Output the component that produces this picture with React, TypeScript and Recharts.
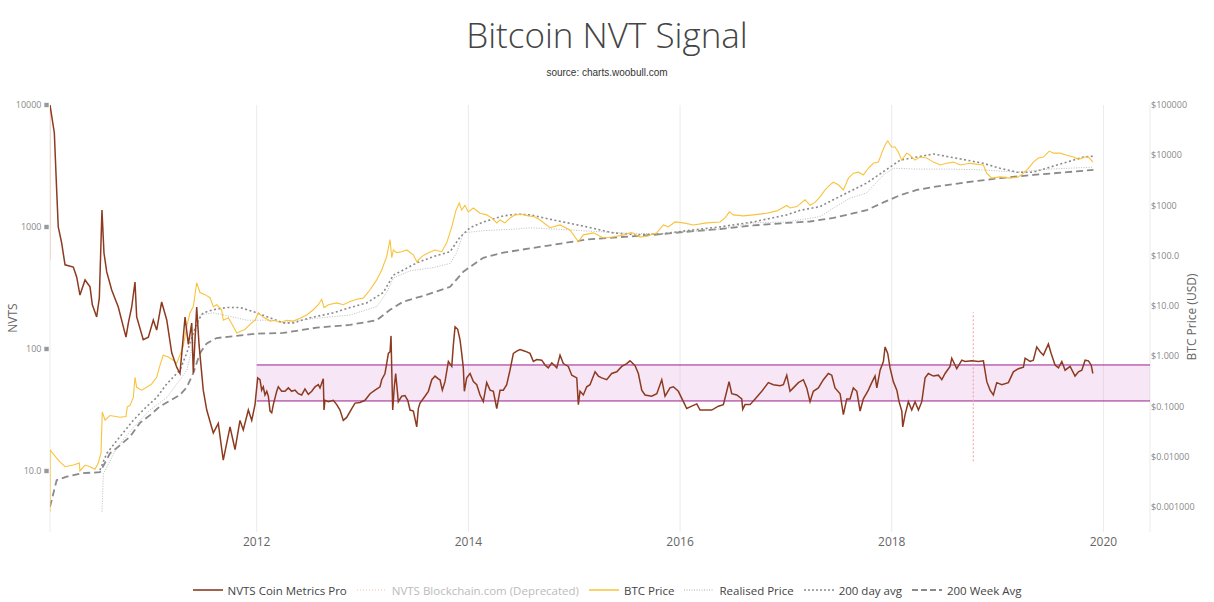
import {
  ComposedChart,
  Line,
  XAxis,
  YAxis,
  CartesianGrid,
  ReferenceArea,
  ReferenceLine,
} from 'recharts'

// time is in decimal years
const X_TICKS = [2012, 2014, 2016, 2018, 2020]
const NVTS_TICKS = [10, 100, 1000, 10000]
const NVTS_TICK_LABELS = ['10.0', '100', '1000', '10000']
const PRICE_TICKS = [0.001, 0.01, 0.1, 1, 10, 100, 1000, 10000, 100000]
const PRICE_TICK_LABELS = [
  '$0.001000',
  '$0.01000',
  '$0.1000',
  '$1.000',
  '$10.00',
  '$100.0',
  '$1000',
  '$10000',
  '$100000',
]

const BAND_START = 2012
const BAND_END = 2020.44
const BAND_LOW = 37.5
const BAND_HIGH = 74
const MARKER_DATE = 2018.77
const MARKER_LOW = 12
const MARKER_HIGH = 200

const nvtsCoinMetrics: [number, number][] = [
  [2010.047, 10000], [2010.088, 5900], [2010.11, 2000], [2010.125, 1000], [2010.157, 740],
  [2010.189, 490], [2010.267, 470], [2010.299, 390], [2010.33, 277], [2010.378, 368],
  [2010.425, 323], [2010.447, 230], [2010.488, 183], [2010.513, 262], [2010.538, 1377],
  [2010.557, 612], [2010.583, 428], [2010.63, 305], [2010.692, 221], [2010.765, 125],
  [2010.787, 163], [2010.819, 221], [2010.85, 354], [2010.866, 183], [2010.928, 119],
  [2010.976, 125], [2011.023, 173], [2011.055, 143], [2011.102, 243], [2011.15, 173],
  [2011.197, 93], [2011.244, 71], [2011.275, 63], [2011.323, 183], [2011.354, 109],
  [2011.386, 163], [2011.401, 64], [2011.433, 221], [2011.455, 109], [2011.495, 46],
  [2011.528, 31.6], [2011.59, 20.5], [2011.637, 24.5], [2011.684, 12.3], [2011.748, 23],
  [2011.795, 15], [2011.842, 26], [2011.873, 21.7], [2011.921, 31.6], [2011.953, 26],
  [2011.984, 35], [2012.009, 58], [2012.031, 56], [2012.047, 46], [2012.062, 49],
  [2012.078, 42], [2012.095, 45], [2012.11, 41], [2012.126, 31], [2012.142, 30],
  [2012.157, 35], [2012.189, 45], [2012.204, 49], [2012.236, 45], [2012.267, 45],
  [2012.299, 48], [2012.331, 45], [2012.362, 46], [2012.393, 43], [2012.425, 42],
  [2012.456, 47], [2012.488, 42.5], [2012.52, 45], [2012.551, 49], [2012.582, 51],
  [2012.598, 48], [2012.629, 57], [2012.636, 31.6], [2012.645, 38], [2012.677, 37],
  [2012.724, 38], [2012.756, 35], [2012.787, 31.6], [2012.818, 26], [2012.85, 27.5],
  [2012.898, 32.5], [2012.929, 36], [2012.976, 36.5], [2013.023, 38], [2013.071, 43],
  [2013.118, 46], [2013.165, 49], [2013.181, 56], [2013.212, 63], [2013.228, 76],
  [2013.244, 92], [2013.26, 95], [2013.269, 128], [2013.276, 67], [2013.285, 31.6],
  [2013.3, 49], [2013.313, 63], [2013.323, 51], [2013.338, 37], [2013.37, 41],
  [2013.401, 41.5], [2013.427, 38], [2013.449, 31.6], [2013.48, 31], [2013.512, 23],
  [2013.527, 32.5], [2013.543, 36], [2013.59, 41], [2013.622, 45], [2013.654, 56],
  [2013.685, 60], [2013.716, 57], [2013.732, 56], [2013.754, 46], [2013.779, 54],
  [2013.811, 79], [2013.843, 72], [2013.858, 108], [2013.874, 152], [2013.899, 145],
  [2013.921, 119], [2013.937, 92], [2013.952, 70], [2013.962, 45], [2013.984, 58],
  [2014.016, 63], [2014.047, 54], [2014.079, 51], [2014.11, 42], [2014.141, 37],
  [2014.173, 53], [2014.205, 46], [2014.236, 45], [2014.268, 32.5], [2014.299, 46],
  [2014.33, 46], [2014.362, 51], [2014.393, 67], [2014.425, 92], [2014.457, 96],
  [2014.488, 99], [2014.535, 96], [2014.582, 92], [2014.614, 79], [2014.646, 82],
  [2014.693, 81], [2014.724, 74], [2014.755, 70], [2014.788, 77], [2014.835, 70],
  [2014.866, 89], [2014.897, 76], [2014.944, 72], [2014.977, 61], [2015.024, 58],
  [2015.039, 35], [2015.055, 45], [2015.086, 42], [2015.118, 49], [2015.149, 51],
  [2015.197, 65], [2015.228, 60], [2015.26, 58], [2015.307, 56], [2015.354, 63],
  [2015.402, 65], [2015.449, 72], [2015.496, 76], [2015.527, 80], [2015.575, 73],
  [2015.606, 63], [2015.638, 46], [2015.669, 42], [2015.732, 41], [2015.78, 43],
  [2015.827, 56], [2015.858, 41], [2015.905, 48], [2015.937, 49], [2015.984, 45],
  [2016.031, 37], [2016.063, 32.5], [2016.11, 34], [2016.158, 35.5], [2016.189, 31.6],
  [2016.236, 31.6], [2016.299, 31.6], [2016.362, 34], [2016.409, 35], [2016.441, 45],
  [2016.463, 54], [2016.488, 43], [2016.536, 42], [2016.583, 39], [2016.592, 32],
  [2016.614, 35], [2016.661, 35], [2016.709, 39], [2016.772, 45], [2016.834, 53],
  [2016.881, 51], [2016.945, 50], [2016.976, 51], [2017.008, 61], [2017.039, 45],
  [2017.07, 48], [2017.118, 53], [2017.165, 56], [2017.197, 48], [2017.228, 37],
  [2017.259, 45], [2017.307, 48], [2017.354, 56], [2017.401, 63], [2017.433, 61],
  [2017.464, 48], [2017.512, 43], [2017.543, 29], [2017.575, 39], [2017.606, 39],
  [2017.637, 48], [2017.67, 45], [2017.701, 31], [2017.732, 39], [2017.779, 46],
  [2017.811, 53], [2017.842, 60], [2017.859, 48], [2017.89, 67], [2017.921, 79],
  [2017.937, 104], [2017.962, 92], [2017.984, 70], [2018.015, 54], [2018.048, 46],
  [2018.069, 37], [2018.095, 31], [2018.104, 23], [2018.126, 29], [2018.157, 37],
  [2018.189, 31.6], [2018.22, 37], [2018.252, 31.6], [2018.284, 37], [2018.315, 58],
  [2018.346, 63], [2018.393, 60], [2018.441, 61], [2018.473, 56], [2018.504, 63],
  [2018.551, 72], [2018.567, 84], [2018.614, 69], [2018.662, 81], [2018.693, 79],
  [2018.756, 80], [2018.819, 79], [2018.866, 80], [2018.898, 54], [2018.929, 46],
  [2018.96, 42], [2018.992, 53], [2019.04, 51], [2019.102, 53], [2019.149, 65],
  [2019.197, 69], [2019.244, 71], [2019.26, 84], [2019.307, 79], [2019.338, 81],
  [2019.37, 104], [2019.402, 95], [2019.433, 89], [2019.48, 110], [2019.506, 92],
  [2019.543, 74], [2019.575, 70], [2019.607, 79], [2019.638, 67], [2019.685, 72],
  [2019.732, 60], [2019.764, 65], [2019.796, 67], [2019.827, 81], [2019.858, 80],
  [2019.884, 74], [2019.9, 63],
]

const nvtsBlockchain: [number, number][] = [
  [2010.047, 540],
  [2010.048, 10000],
]

const btcPrice: [number, number][] = [
  [2010.047, 0.0008], [2010.048, 0.0136], [2010.125, 0.0085], [2010.189, 0.0063], [2010.267, 0.0068],
  [2010.324, 0.0075], [2010.33, 0.0052], [2010.378, 0.0068], [2010.425, 0.0063], [2010.472, 0.0056],
  [2010.503, 0.0075], [2010.529, 0.0117], [2010.541, 0.078], [2010.567, 0.053], [2010.614, 0.066],
  [2010.708, 0.061], [2010.765, 0.063], [2010.777, 0.098], [2010.803, 0.105], [2010.834, 0.15],
  [2010.85, 0.38], [2010.866, 0.24], [2010.913, 0.21], [2010.961, 0.24], [2011.008, 0.28],
  [2011.055, 0.38], [2011.08, 0.6], [2011.117, 1.05], [2011.165, 0.96], [2011.212, 0.83],
  [2011.244, 0.72], [2011.306, 1.57], [2011.339, 3.9], [2011.37, 7.3], [2011.401, 9.7],
  [2011.433, 29], [2011.464, 18.5], [2011.511, 16.8], [2011.559, 14.6], [2011.59, 9.7],
  [2011.622, 10.6], [2011.669, 8.4], [2011.684, 5.2], [2011.732, 5.8], [2011.779, 3.9],
  [2011.811, 2.9], [2011.842, 3.1], [2011.889, 3.4], [2011.937, 4.3], [2011.984, 5.2],
  [2012.015, 7.3], [2012.062, 6.0], [2012.126, 5.0], [2012.173, 5.2], [2012.22, 4.7],
  [2012.284, 5.2], [2012.346, 5.0], [2012.409, 5.7], [2012.473, 6.6], [2012.535, 8.4],
  [2012.582, 10.6], [2012.614, 13.6], [2012.636, 9.3], [2012.677, 10.6], [2012.756, 11.5],
  [2012.818, 10.6], [2012.882, 12.2], [2012.945, 13.6], [2013.007, 14.3], [2013.071, 21],
  [2013.134, 33], [2013.181, 52], [2013.228, 96], [2013.26, 210], [2013.276, 91],
  [2013.291, 130], [2013.323, 115], [2013.37, 120], [2013.417, 130], [2013.48, 104],
  [2013.512, 76], [2013.559, 96], [2013.622, 115], [2013.685, 130], [2013.748, 120],
  [2013.795, 180], [2013.843, 375], [2013.883, 810], [2013.914, 1120], [2013.937, 810],
  [2013.968, 1010], [2013.999, 745], [2014.047, 890], [2014.11, 700], [2014.173, 650],
  [2014.221, 565], [2014.268, 450], [2014.299, 515], [2014.346, 450], [2014.393, 565],
  [2014.441, 650], [2014.504, 670], [2014.566, 620], [2014.62, 600], [2014.677, 515],
  [2014.771, 360], [2014.866, 410], [2014.96, 325], [2015.039, 190], [2015.086, 260],
  [2015.181, 285], [2015.275, 225], [2015.369, 235], [2015.464, 260], [2015.543, 290],
  [2015.622, 235], [2015.7, 250], [2015.78, 285], [2015.842, 410], [2015.889, 375],
  [2015.953, 470], [2016.031, 450], [2016.126, 410], [2016.252, 450], [2016.378, 470],
  [2016.425, 565], [2016.466, 745], [2016.503, 650], [2016.598, 620], [2016.692, 650],
  [2016.819, 700], [2016.914, 780], [2017.008, 1000], [2017.039, 890], [2017.103, 950],
  [2017.181, 1300], [2017.228, 1010], [2017.275, 1150], [2017.322, 1480], [2017.37, 2040],
  [2017.417, 2580], [2017.448, 2900], [2017.496, 2580], [2017.543, 2040], [2017.591, 3500],
  [2017.638, 4400], [2017.685, 4600], [2017.731, 4050], [2017.779, 5500], [2017.826, 6900],
  [2017.874, 7300], [2017.905, 11000], [2017.937, 16000], [2017.962, 19200], [2018.0, 14600],
  [2018.031, 14600], [2018.062, 11600], [2018.094, 8000], [2018.142, 11000], [2018.173, 10000],
  [2018.22, 8000], [2018.268, 9200], [2018.331, 8800], [2018.394, 7300], [2018.457, 6400],
  [2018.52, 6900], [2018.582, 7300], [2018.646, 6400], [2018.74, 6900], [2018.866, 6400],
  [2018.897, 4400], [2018.945, 3500], [2019.024, 3700], [2019.118, 3500], [2019.197, 3700],
  [2019.244, 4400], [2019.291, 5500], [2019.338, 7300], [2019.385, 8800], [2019.432, 9200],
  [2019.489, 12100], [2019.527, 11000], [2019.591, 11000], [2019.654, 10000], [2019.716, 9200],
  [2019.764, 8300], [2019.827, 9200], [2019.858, 9200], [2019.9, 7300],
]

const realisedPrice: [number, number][] = [
  [2010.538, 0.0008], [2010.551, 0.0045], [2010.677, 0.015], [2010.834, 0.038], [2010.992, 0.085],
  [2011.15, 0.15], [2011.275, 0.34], [2011.339, 0.53], [2011.401, 1.8], [2011.464, 6.6],
  [2011.59, 7.3], [2011.779, 6.0], [2011.906, 5.2], [2012.126, 5.2], [2012.251, 4.7],
  [2012.567, 5.7], [2012.882, 6.6], [2013.134, 9.7], [2013.228, 18.5], [2013.291, 36],
  [2013.449, 50], [2013.669, 58], [2013.827, 70], [2013.89, 115], [2013.952, 285],
  [2014.141, 315], [2014.457, 340], [2014.582, 360], [2014.96, 325], [2015.433, 285],
  [2015.811, 270], [2016.063, 300], [2016.378, 340], [2016.692, 450], [2017.008, 470],
  [2017.322, 600], [2017.448, 890], [2017.606, 1400], [2017.764, 1780], [2017.921, 4050],
  [2018.015, 5500], [2018.236, 5300], [2018.551, 5300], [2018.866, 5100], [2019.181, 4600],
  [2019.496, 5300], [2019.906, 5800],
]

const avg200Day: [number, number][] = [
  [2010.519, 0.0054], [2010.583, 0.0116], [2010.708, 0.025], [2010.834, 0.053], [2010.961, 0.1],
  [2011.055, 0.15], [2011.15, 0.28], [2011.275, 0.53], [2011.339, 1.15], [2011.401, 2.9],
  [2011.448, 5.2], [2011.495, 7.3], [2011.59, 8.4], [2011.717, 9.3], [2011.842, 9.3],
  [2011.968, 7.7], [2012.126, 5.8], [2012.251, 4.6], [2012.346, 4.6], [2012.504, 5.8],
  [2012.724, 7.3], [2012.882, 9.3], [2013.039, 11.5], [2013.196, 18.5], [2013.291, 41],
  [2013.385, 52], [2013.512, 72], [2013.669, 96], [2013.827, 120], [2013.921, 235],
  [2014.016, 360], [2014.141, 470], [2014.33, 620], [2014.457, 670], [2014.582, 650],
  [2014.803, 515], [2015.118, 375], [2015.369, 285], [2015.591, 260], [2015.811, 270],
  [2016.063, 315], [2016.378, 375], [2016.692, 470], [2017.008, 650], [2017.134, 800],
  [2017.322, 950], [2017.448, 1300], [2017.764, 2800], [2017.984, 5800], [2018.079, 8000],
  [2018.236, 9200], [2018.394, 10600], [2018.551, 9200], [2018.709, 8000], [2018.866, 6900],
  [2019.024, 5500], [2019.181, 4600], [2019.338, 4600], [2019.496, 5800], [2019.654, 7300],
  [2019.811, 9200], [2019.906, 9600],
]

const avg200Week: [number, number][] = [
  [2010.047, 0.001], [2010.11, 0.0034], [2010.205, 0.004], [2010.362, 0.0047], [2010.519, 0.0049],
  [2010.614, 0.0116], [2010.708, 0.0168], [2010.803, 0.025], [2010.897, 0.047], [2010.992, 0.067],
  [2011.086, 0.1], [2011.181, 0.13], [2011.275, 0.17], [2011.339, 0.24], [2011.401, 0.46],
  [2011.464, 1.15], [2011.528, 1.8], [2011.622, 2.3], [2011.779, 2.5], [2012.0, 2.8],
  [2012.251, 2.9], [2012.567, 3.7], [2012.882, 4.2], [2013.134, 5.2], [2013.26, 8.4],
  [2013.385, 12.2], [2013.574, 15.9], [2013.827, 24], [2013.952, 48], [2014.141, 91],
  [2014.33, 115], [2014.582, 140], [2014.803, 165], [2015.118, 210], [2015.433, 235],
  [2015.748, 260], [2016.063, 300], [2016.378, 340], [2016.692, 400], [2017.008, 450],
  [2017.228, 480], [2017.448, 565], [2017.764, 810], [2017.921, 1150], [2018.079, 1600],
  [2018.236, 2040], [2018.394, 2330], [2018.709, 2900], [2019.024, 3500], [2019.338, 4050],
  [2019.654, 4600], [2019.906, 5100],
]

const toRows = (points: [number, number][]) => points.map(([t, v]) => ({ t, v }))

const NVTS_COLOR = '#8d3b20'
const DEPRECATED_COLOR = '#f2c2ae'
const PRICE_COLOR = '#f9c33b'
const GREY = '#8a8a8a'

const LEGEND = [
  { name: 'NVTS Coin Metrics Pro', color: NVTS_COLOR, width: 1.6, dash: undefined, text: '#444' },
  { name: 'NVTS Blockchain.com (Deprecated)', color: DEPRECATED_COLOR, width: 1, dash: '1 2', text: '#bbb' },
  { name: 'BTC Price', color: PRICE_COLOR, width: 1.5, dash: undefined, text: '#444' },
  { name: 'Realised Price', color: '#aaa', width: 1, dash: '1 1.5', text: '#444' },
  { name: '200 day avg', color: GREY, width: 1.6, dash: '2 2', text: '#444' },
  { name: '200 Week Avg', color: GREY, width: 1.8, dash: '6 3', text: '#444' },
]

function NvtsTick({ y, payload }: any) {
  const label = NVTS_TICK_LABELS[NVTS_TICKS.indexOf(payload.value)]
  return (
    <g>
      <text x={41.5} y={y} dy="0.35em" textAnchor="end" fontSize={9} fill="#888" fontFamily="Open Sans">
        {label}
      </text>
      <rect x={44.3} y={y - 2.2} width={4.4} height={4.4} fill="#999" />
    </g>
  )
}

function PriceTick({ y, payload }: any) {
  const label = PRICE_TICK_LABELS[PRICE_TICKS.indexOf(payload.value)]
  return (
    <text x={1151} y={y} dy="0.35em" textAnchor="start" fontSize={9} fill="#888" fontFamily="Open Sans">
      {label}
    </text>
  )
}

function YearTick({ x, payload }: any) {
  return (
    <text x={x} y={545.5} textAnchor="middle" fontSize={12} fill="#666" fontFamily="Open Sans">
      {payload.value}
    </text>
  )
}

export default function App() {
  return (
    <div
      style={{
        position: 'absolute',
        left: 0,
        top: 0,
        width: 1214,
        height: 602,
        background: '#fff',
        fontFamily: '"Open Sans", sans-serif',
        overflow: 'hidden',
      }}
    >
      <div
        style={{
          position: 'absolute',
          top: 17,
          width: 1214,
          textAlign: 'center',
          fontSize: 35,
          lineHeight: '35px',
          fontWeight: 300,
          color: '#444',
        }}
      >
        Bitcoin NVT Signal
      </div>
      <div
        style={{
          position: 'absolute',
          top: 67.5,
          width: 1214,
          textAlign: 'center',
          fontSize: 10,
          lineHeight: '10px',
          color: '#333',
          fontFamily: '"Liberation Sans", Arial, sans-serif',
        }}
      >
        source: charts.woobull.com
      </div>

      <ComposedChart width={1214} height={602} margin={{ top: 105, right: 0, bottom: 0, left: 0 }}>
        <CartesianGrid yAxisId="nvt" horizontal={false} stroke="#ebebeb" />
        <XAxis
          type="number"
          dataKey="t"
          domain={[2010.047, BAND_END]}
          allowDataOverflow
          ticks={X_TICKS}
          tick={<YearTick />}
          axisLine={false}
          tickLine={false}
          height={70}
        />
        <YAxis
          yAxisId="nvt"
          orientation="left"
          scale="log"
          domain={[Math.pow(10, 0.5), 10000]}
          allowDataOverflow
          ticks={NVTS_TICKS}
          tick={<NvtsTick />}
          axisLine={false}
          tickLine={false}
          width={50}
        />
        <YAxis
          yAxisId="price"
          orientation="right"
          scale="log"
          domain={[Math.pow(10, -3.5), 100000]}
          allowDataOverflow
          ticks={PRICE_TICKS}
          tick={<PriceTick />}
          axisLine={false}
          tickLine={false}
          width={64}
        />
        <ReferenceArea
          yAxisId="nvt"
          x1={BAND_START}
          x2={BAND_END}
          y1={BAND_LOW}
          y2={BAND_HIGH}
          fill="#d98fd0"
          fillOpacity={0.22}
          stroke="none"
        />
        <ReferenceLine
          yAxisId="nvt"
          segment={[{ x: BAND_START, y: BAND_HIGH }, { x: BAND_END, y: BAND_HIGH }]}
          stroke="#981f8c"
          strokeWidth={1}
        />
        <ReferenceLine
          yAxisId="nvt"
          segment={[{ x: BAND_START, y: BAND_LOW }, { x: BAND_END, y: BAND_LOW }]}
          stroke="#981f8c"
          strokeWidth={1}
        />
        <ReferenceLine
          yAxisId="nvt"
          segment={[{ x: MARKER_DATE, y: MARKER_LOW }, { x: MARKER_DATE, y: MARKER_HIGH }]}
          stroke="#f49a9a"
          strokeWidth={1}
          strokeDasharray="2 2"
        />
        <Line
          yAxisId="price"
          data={toRows(avg200Week)}
          dataKey="v"
          stroke={GREY}
          strokeWidth={1.8}
          strokeDasharray="7 4"
          dot={false}
          isAnimationActive={false}
        />
        <Line
          yAxisId="price"
          data={toRows(avg200Day)}
          dataKey="v"
          stroke={GREY}
          strokeWidth={1.6}
          strokeDasharray="2 2.5"
          dot={false}
          isAnimationActive={false}
        />
        <Line
          yAxisId="price"
          data={toRows(realisedPrice)}
          dataKey="v"
          stroke="#aaa"
          strokeWidth={0.8}
          strokeDasharray="1 1.5"
          dot={false}
          isAnimationActive={false}
        />
        <Line
          yAxisId="price"
          data={toRows(btcPrice)}
          dataKey="v"
          stroke={PRICE_COLOR}
          strokeWidth={1.1}
          dot={false}
          isAnimationActive={false}
        />
        <Line
          yAxisId="nvt"
          data={toRows(nvtsBlockchain)}
          dataKey="v"
          stroke={DEPRECATED_COLOR}
          strokeWidth={1}
          dot={false}
          isAnimationActive={false}
        />
        <Line
          yAxisId="nvt"
          data={toRows(nvtsCoinMetrics)}
          dataKey="v"
          stroke={NVTS_COLOR}
          strokeWidth={1.5}
          dot={false}
          isAnimationActive={false}
        />
      </ComposedChart>

      <div
        style={{
          position: 'absolute',
          left: 12,
          top: 318,
          transform: 'translate(-50%, -50%) rotate(-90deg)',
          fontSize: 12,
          color: '#666',
          whiteSpace: 'nowrap',
        }}
      >
        NVTS
      </div>
      <div
        style={{
          position: 'absolute',
          left: 1191,
          top: 317,
          transform: 'translate(-50%, -50%) rotate(-90deg)',
          fontSize: 12,
          color: '#666',
          whiteSpace: 'nowrap',
        }}
      >
        BTC Price (USD)
      </div>

      <div
        style={{
          position: 'absolute',
          top: 580,
          left: 0,
          width: 1214,
          height: 20,
          display: 'flex',
          justifyContent: 'center',
          alignItems: 'center',
          gap: 10,
          fontSize: 11.5,
        }}
      >
        {LEGEND.map((item) => (
          <div key={item.name} style={{ display: 'flex', alignItems: 'center', gap: 5 }}>
            <svg width={30} height={10}>
              <line
                x1={0}
                y1={5}
                x2={30}
                y2={5}
                stroke={item.color}
                strokeWidth={item.width}
                strokeDasharray={item.dash}
              />
            </svg>
            <span style={{ color: item.text, whiteSpace: 'nowrap' }}>{item.name}</span>
          </div>
        ))}
      </div>
    </div>
  )
}
